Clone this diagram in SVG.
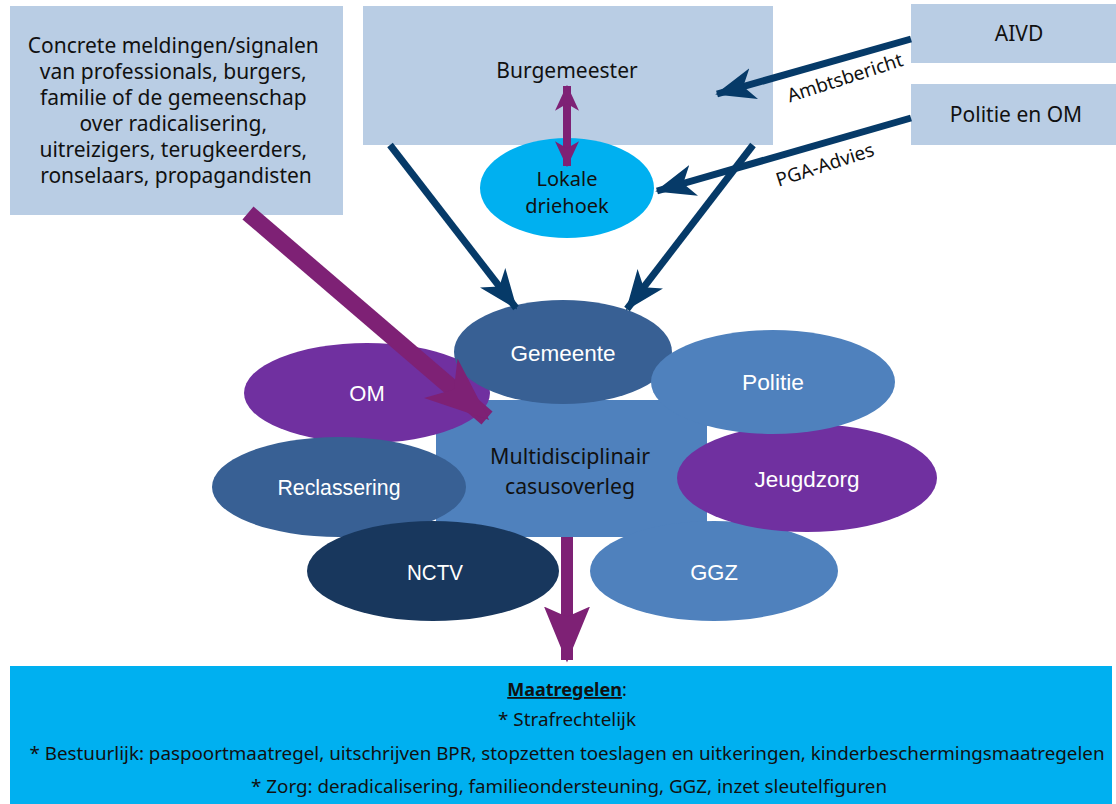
<svg xmlns="http://www.w3.org/2000/svg" width="1116" height="804" viewBox="0 0 1116 804">
<style>
.box{fill:#b9cde4}
.t{font-family:"Noto Sans","Open Sans","Liberation Sans",sans-serif;fill:#111;text-anchor:middle}
.c{font-family:"Liberation Sans","Noto Sans",sans-serif;fill:#fff;text-anchor:middle;font-size:22px}
.dk{stroke:#063a68;stroke-width:7;fill:none}
.pp{stroke:#7e2175;fill:none}
</style>
<defs>
<marker id="hd" viewBox="0 0 11 10" preserveAspectRatio="none" markerUnits="userSpaceOnUse" markerWidth="40" markerHeight="32" refX="10.5" refY="5" orient="auto">
<path d="M0,0 L11,5 L0,10 L3,5 z" fill="#063a68"/>
</marker>
<marker id="hp" viewBox="0 0 11 10" preserveAspectRatio="none" markerUnits="userSpaceOnUse" markerWidth="64" markerHeight="52" refX="10.5" refY="5" orient="auto">
<path d="M0,0 L11,5 L0,10 L3,5 z" fill="#7e2175"/>
</marker>
<marker id="hp2" viewBox="0 0 11 10" preserveAspectRatio="none" markerUnits="userSpaceOnUse" markerWidth="56" markerHeight="46" refX="10.5" refY="5" orient="auto">
<path d="M0,0 L11,5 L0,10 L2,5 z" fill="#7e2175"/>
</marker>
<marker id="hp3" viewBox="0 0 11 10" preserveAspectRatio="none" markerUnits="userSpaceOnUse" markerWidth="26" markerHeight="24" refX="10.5" refY="5" orient="auto-start-reverse">
<path d="M0,0 L11,5 L0,10 L3,5 z" fill="#7e2175"/>
</marker>
</defs>

<g id="signalen">
<rect class="box" x="10" y="6" width="333" height="209"/>
<text class="t" font-size="21" x="176">
<tspan x="176" y="53">Concrete meldingen/signalen</tspan>
<tspan x="176" y="79">van professionals, burgers,</tspan>
<tspan x="176" y="105">familie of de gemeenschap</tspan>
<tspan x="176" y="131">over radicalisering,</tspan>
<tspan x="176" y="157">uitreizigers, terugkeerders,</tspan>
<tspan x="176" y="183">ronselaars, propagandisten</tspan>
</text>
</g>

<g id="burgemeester">
<rect class="box" x="363" y="6" width="410" height="139"/>
<text class="t" font-size="21" x="567" y="78">Burgemeester</text>
</g>

<g id="aivd">
<rect class="box" x="911" y="4" width="205" height="59"/>
<text class="t" font-size="21" x="1019" y="41">AIVD</text>
</g>

<g id="politie-om">
<rect class="box" x="911" y="84" width="205" height="61"/>
<text class="t" font-size="21" x="1016" y="122">Politie en OM</text>
</g>

<g id="lokale-driehoek">
<ellipse cx="567" cy="188" rx="87" ry="50" fill="#00b0f0"/>
<text class="t" font-size="20" x="567" y="186">Lokale</text>
<text class="t" font-size="20" x="567" y="213">driehoek</text>
</g>

<g id="casusoverleg">
<rect x="436" y="400" width="271" height="137" fill="#4f81bd"/>
<text class="t" font-size="21" x="570" y="464" textLength="160" lengthAdjust="spacingAndGlyphs">Multidisciplinair</text>
<text class="t" font-size="21" x="570" y="494" textLength="130" lengthAdjust="spacingAndGlyphs">casusoverleg</text>
</g>

<g id="om">
<ellipse cx="367" cy="393" rx="123" ry="50" fill="#7030a0"/>
<text class="c" x="367" y="401">OM</text>
</g>

<g id="gemeente">
<ellipse cx="563" cy="352" rx="109" ry="52" fill="#386094"/>
<text class="c" x="563" y="361" textLength="105" lengthAdjust="spacingAndGlyphs">Gemeente</text>
</g>

<g id="ggz">
<ellipse cx="714" cy="571" rx="124" ry="50" fill="#4f81bd"/>
<text class="c" x="714" y="580">GGZ</text>
</g>

<g id="jeugdzorg">
<ellipse cx="807" cy="478" rx="130" ry="54" fill="#7030a0"/>
<text class="c" x="807" y="487" textLength="105" lengthAdjust="spacingAndGlyphs">Jeugdzorg</text>
</g>

<g id="politie">
<ellipse cx="773" cy="382" rx="122" ry="52" fill="#4f81bd"/>
<text class="c" x="773" y="390" textLength="62" lengthAdjust="spacingAndGlyphs">Politie</text>
</g>

<g id="reclassering">
<ellipse cx="339" cy="487" rx="127" ry="50" fill="#386094"/>
<text class="c" x="339" y="495" textLength="123" lengthAdjust="spacingAndGlyphs">Reclassering</text>
</g>

<g id="nctv">
<ellipse cx="433" cy="571" rx="126" ry="50" fill="#18375d"/>
<text class="c" x="435" y="580" textLength="56" lengthAdjust="spacingAndGlyphs">NCTV</text>
</g>

<g id="maatregelen">
<rect x="10" y="666" width="1102" height="138" fill="#00b0f0"/>
<text class="t" font-size="18" x="567" y="696"><tspan font-weight="bold" text-decoration="underline">Maatregelen</tspan>:</text>
<text class="t" font-size="18" x="567" y="726" textLength="138" lengthAdjust="spacingAndGlyphs">* Strafrechtelijk</text>
<text class="t" font-size="18" x="567" y="760" textLength="1075" lengthAdjust="spacingAndGlyphs">* Bestuurlijk: paspoortmaatregel, uitschrijven BPR, stopzetten toeslagen en uitkeringen, kinderbeschermingsmaatregelen</text>
<text class="t" font-size="18" x="569" y="793" textLength="636" lengthAdjust="spacingAndGlyphs">* Zorg: deradicalisering, familieondersteuning, GGZ, inzet sleutelfiguren</text>
</g>

<g id="connectors">
<line class="dk" x1="911" y1="39" x2="717" y2="94" marker-end="url(#hd)"/>
<line class="dk" x1="911" y1="118" x2="657" y2="191" marker-end="url(#hd)"/>
<line class="dk" x1="390" y1="145" x2="516" y2="308" marker-end="url(#hd)"/>
<line class="dk" x1="753" y1="145" x2="627" y2="309" marker-end="url(#hd)"/>
<line class="pp" stroke-width="8" x1="567" y1="86" x2="567" y2="166" marker-start="url(#hp3)" marker-end="url(#hp3)"/>
<line class="pp" stroke-width="17" x1="248" y1="213" x2="487" y2="418" marker-end="url(#hp)"/>
<line class="pp" stroke-width="12" x1="567" y1="537" x2="567" y2="660" marker-end="url(#hp2)"/>
<text class="t" font-size="19" transform="translate(847,84) rotate(-18)">Ambtsbericht</text>
<text class="t" font-size="19" transform="translate(827,171) rotate(-18)">PGA-Advies</text>
</g>
</svg>
